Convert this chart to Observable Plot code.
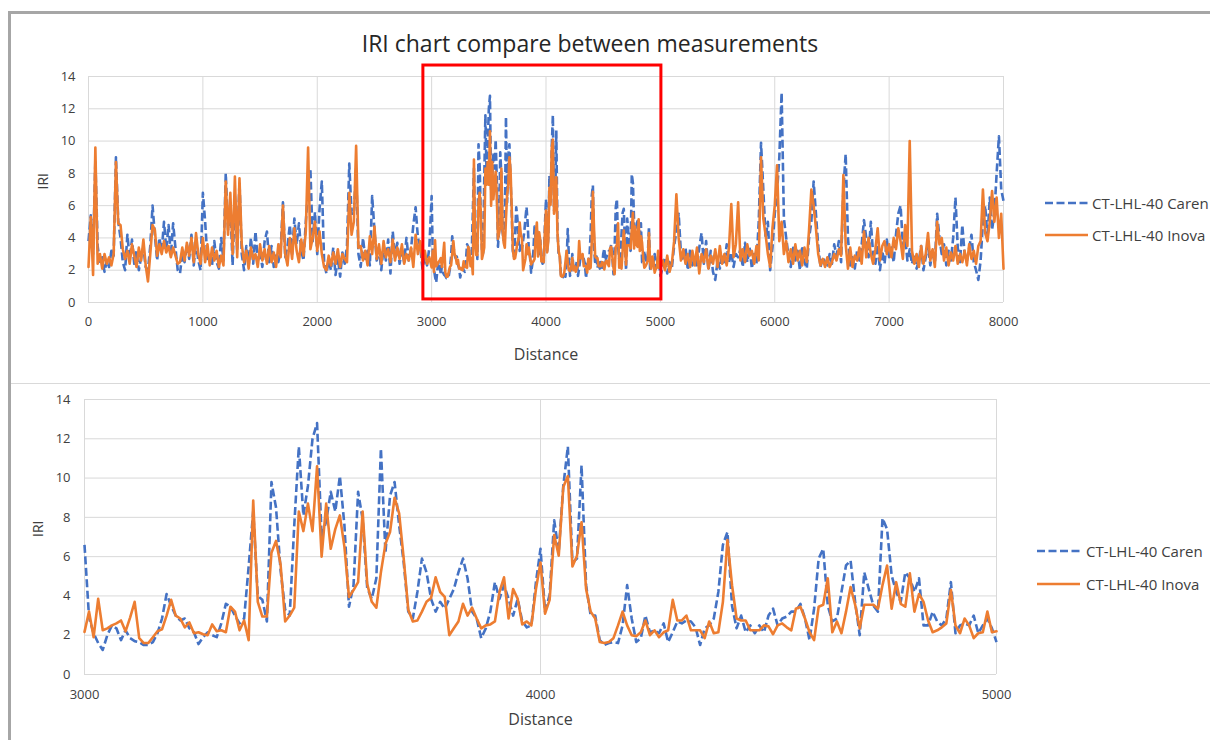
<!DOCTYPE html>
<html><head><meta charset="utf-8">
<script src="https://cdn.jsdelivr.net/npm/d3@7"></script>
<script src="https://cdn.jsdelivr.net/npm/@observablehq/plot@0.6"></script>
<style>
html,body{margin:0;padding:0;background:#fff;overflow:hidden;width:1210px;height:740px}
#wrap{position:relative;width:1210px;height:740px;overflow:hidden;font-family:"Open Sans",sans-serif;color:#404040;background:#fff}
.abs{position:absolute}
.leg{position:absolute;font-size:15px;line-height:20px;white-space:nowrap;color:#404040}
</style></head><body>
<div id="wrap">
  <div class="abs" style="left:9px;top:11px;width:1201px;height:3px;background:#a6a6a6"></div>
  <div class="abs" style="left:8px;top:11px;width:3px;height:729px;background:#a6a6a6"></div>
  <div class="abs" style="left:11px;top:383px;width:1199px;height:1px;background:#d9d9d9"></div>
  <div class="abs" style="left:290px;top:27px;width:600px;text-align:center;font-size:23px;line-height:32px;color:#262626">IRI chart compare between measurements</div>
  <div id="top" class="abs" style="left:0;top:60px"></div>
  <div id="bottom" class="abs" style="left:0;top:385px"></div>
  <div id="leg1"></div>
  <div id="leg2"></div>
</div>
<script>
// Series names and axis ticks
const seriesNames = ["CT-LHL-40 Caren", "CT-LHL-40 Inova"];
const yTicks = [0, 2, 4, 6, 8, 10, 12, 14];
const xTicksTop = [0, 1000, 2000, 3000, 4000, 5000, 6000, 7000, 8000];
const xTicksBottom = [3000, 4000, 5000];
// Highlighted (zoomed) section drawn as red box on top chart
const zoomBox = [{x1: 2928, x2: 5009, y1: 0.19, y2: 14.68}];

// IRI values, 0..2980 m every 20 m
const carenA = [
 3.8, 5.4, 3.0, 8.8, 3.5, 2.4, 2.8, 1.9, 2.6, 2.2,
 3.2, 2.9, 9.0, 5.0, 4.0, 2.5, 2.0, 4.2, 2.7, 3.9,
 2.4, 3.2, 2.0, 2.8, 3.4, 2.2, 2.0, 3.5, 6.0, 4.2,
 2.6, 4.0, 3.2, 5.0, 3.3, 4.8, 2.9, 4.9, 3.4, 2.0,
 1.8, 3.0, 2.5, 3.6, 2.7, 4.2, 2.3, 3.8, 2.6, 2.0,
 6.8, 5.0, 2.7, 3.1, 2.3, 3.8, 2.5, 2.1, 4.0, 2.6,
 8.0, 4.5, 6.0, 2.3, 6.6, 3.2, 7.5, 3.0, 2.0, 3.5,
 2.3, 4.0, 2.4, 4.4, 2.6, 3.1, 2.2, 3.8, 4.4, 2.5,
 3.5, 2.2, 2.9, 2.5, 3.3, 6.2, 2.8, 3.5, 4.8, 3.0,
 5.2, 3.6, 4.9, 3.2, 2.6, 5.0, 7.0, 8.3, 3.8, 5.6,
 3.0, 5.8, 7.5, 2.5, 1.8, 2.6, 2.0, 3.4, 1.7, 2.8,
 1.6, 3.1, 2.4, 3.5, 8.6, 5.5, 5.5, 8.3, 3.0, 2.2,
 4.0, 2.7, 3.2, 2.3, 6.6, 4.5, 2.6, 3.3, 2.0, 3.5,
 2.6, 3.9, 1.8, 4.4, 2.8, 3.7, 2.4, 3.2, 2.5, 4.0,
 2.6, 3.3, 4.8, 5.9, 4.0, 3.5, 2.1, 2.8, 2.3, 3.4
];
const inovaA = [
 2.2, 5.3, 1.7, 9.6, 2.4, 3.0, 2.1, 3.0, 2.4, 2.8,
 2.3, 3.0, 8.7, 4.9, 4.8, 3.3, 2.7, 3.2, 2.4, 3.6,
 2.9, 2.2, 3.4, 2.6, 3.9, 2.3, 1.3, 3.0, 4.8, 4.5,
 2.9, 3.6, 3.0, 3.8, 3.1, 3.5, 2.8, 3.4, 2.9, 2.4,
 2.5, 3.4, 2.6, 3.7, 2.9, 4.0, 2.5, 4.3, 3.0, 2.4,
 4.0, 2.5, 3.6, 2.3, 3.4, 2.6, 3.2, 2.2, 2.9, 2.3,
 7.5, 4.2, 6.8, 3.0, 7.8, 2.8, 7.7, 3.6, 2.5, 3.2,
 2.1, 3.4, 2.7, 3.0, 2.2, 3.6, 2.6, 3.3, 2.4, 3.5,
 2.5, 3.1, 2.2, 3.6, 2.8, 6.0, 3.0, 2.3, 4.0, 2.7,
 4.6, 3.2, 2.5, 3.9, 2.9, 4.4, 9.6, 3.3, 4.0, 5.0,
 3.2, 4.4, 3.0, 2.2, 2.0, 2.9, 2.3, 3.1, 2.4, 3.3,
 2.2, 3.0, 2.7, 2.5, 6.8, 4.2, 5.0, 9.7, 3.4, 3.5,
 2.6, 3.2, 2.3, 4.1, 3.0, 4.7, 2.7, 3.6, 2.4, 3.8,
 2.8, 3.3, 2.5, 3.9, 2.6, 3.4, 2.7, 3.6, 2.4, 3.0,
 2.6, 3.4, 2.2, 4.2, 3.0, 3.8, 2.5, 3.2, 2.4, 2.8
];

// IRI values, 3000..5000 m every 10 m
const carenB = [
 6.6, 2.9, 2.1, 1.6, 1.25, 2.0, 2.5, 2.35, 1.75, 2.25,
 1.85, 1.7, 1.65, 1.5, 1.5, 1.65, 2.1, 2.85, 4.1, 3.5,
 3.0, 2.75, 2.85, 2.35, 2.15, 1.55, 1.9, 2.15, 2.0, 1.9,
 2.6, 3.6, 3.45, 3.0, 2.6, 2.85, 5.5, 8.3, 4.0, 3.8,
 2.7, 9.8, 8.5, 5.3, 3.3, 3.0, 7.6, 11.6, 8.1, 9.6,
 12.0, 12.8, 7.0, 7.8, 9.3, 8.3, 10.1, 7.6, 3.45, 4.55,
 9.3, 7.9, 4.4, 3.85, 4.9, 11.5, 6.2, 9.1, 9.8, 7.6,
 5.7, 3.2, 2.85, 4.2, 5.9, 5.2, 3.85, 3.2, 3.7, 3.35,
 3.85, 4.35, 5.2, 5.9, 4.9, 3.2, 2.85, 1.85, 2.35, 3.2,
 4.7, 3.85, 4.55, 3.85, 3.0, 3.85, 2.7, 2.4, 2.5, 4.7,
 6.4, 3.2, 4.05, 7.85, 6.25, 9.6, 11.6, 5.7, 5.9, 10.65,
 4.55, 3.0, 3.0, 1.75, 1.5, 1.6, 1.65, 1.6, 2.5, 4.55,
 2.85, 1.65, 1.85, 3.0, 2.15, 2.25, 2.1, 2.6, 1.65, 2.15,
 2.7, 2.6, 2.75, 2.7, 2.4, 1.5, 2.35, 2.5, 2.85, 4.2,
 6.6, 7.25, 3.5, 2.35, 3.0, 2.15, 2.5, 2.1, 2.5, 2.15,
 3.0, 3.35, 2.5, 2.85, 2.95, 3.2, 3.2, 3.6, 2.85, 1.75,
 3.35, 5.9, 6.4, 3.5, 2.7, 2.85, 4.2, 5.55, 5.8, 3.7,
 2.0, 5.2, 4.35, 3.5, 3.2, 7.95, 7.4, 5.05, 4.2, 3.7,
 5.2, 4.9, 4.2, 4.9, 2.5, 2.5, 3.2, 2.7, 2.5, 2.85,
 4.7, 2.1, 2.5, 2.6, 2.5, 3.0, 2.1, 2.5, 2.85, 2.35,
 1.65
];
const inovaB = [
 2.17, 3.2, 1.9, 3.85, 2.25, 2.35, 2.5, 2.6, 2.75, 2.2,
 2.9, 3.7, 1.85, 1.6, 1.6, 1.9, 2.2, 2.3, 3.0, 3.8,
 3.0, 2.85, 2.4, 2.65, 2.1, 2.15, 2.05, 2.0, 2.55, 2.2,
 2.25, 2.15, 3.45, 3.2, 2.25, 2.75, 1.75, 8.85, 3.7, 2.95,
 2.95, 6.2, 6.8, 5.6, 2.7, 3.0, 3.4, 8.3, 7.3, 8.7,
 7.3, 10.6, 6.0, 8.7, 6.4, 7.4, 8.1, 6.5, 3.95, 4.3,
 4.7, 8.3, 4.6, 3.7, 3.4, 5.2, 6.65, 7.25, 9.0, 8.2,
 5.9, 3.3, 2.7, 2.75, 3.2, 3.7, 3.9, 4.95, 4.2, 3.95,
 2.0, 2.35, 2.7, 3.6, 3.0, 3.4, 2.85, 2.35, 2.5, 2.55,
 2.7, 4.2, 4.95, 2.85, 4.35, 3.85, 2.55, 2.7, 2.5, 4.35,
 5.7, 3.1, 3.8, 7.1, 6.05, 9.55, 10.1, 5.5, 6.05, 7.75,
 4.35, 3.2, 2.85, 1.65, 1.6, 1.65, 1.85, 2.5, 3.2, 2.5,
 2.0, 1.95, 2.15, 2.75, 2.0, 2.25, 1.9, 2.15, 2.25, 3.8,
 2.75, 2.75, 3.0, 2.25, 2.25, 2.25, 1.85, 2.7, 2.1, 2.15,
 3.7, 6.85, 4.55, 2.85, 2.75, 2.75, 2.25, 2.25, 2.25, 2.5,
 2.45, 2.05, 2.5, 2.6, 2.4, 2.25, 3.35, 3.45, 2.85, 2.15,
 1.75, 3.45, 3.55, 4.9, 2.15, 2.7, 2.1, 3.2, 4.45, 3.55,
 2.35, 3.55, 3.55, 3.55, 3.35, 4.55, 5.55, 3.35, 4.7, 3.6,
 3.45, 5.15, 3.2, 4.1, 3.7, 2.75, 2.15, 2.25, 2.4, 2.6,
 4.3, 2.5, 2.1, 2.85, 2.5, 1.85, 2.1, 2.15, 3.2, 2.15,
 2.2
];

// IRI values, 5020..8000 m every 20 m
const carenC = [
 2.2, 2.8, 1.8, 2.5, 2.1, 3.5, 4.4, 5.5, 3.0, 2.6,
 3.4, 2.0, 3.3, 2.3, 2.8, 2.2, 3.4, 4.3, 2.4, 3.8,
 2.0, 3.2, 1.9, 1.4, 2.6, 2.1, 3.0, 2.4, 3.6, 2.5,
 3.1, 2.2, 3.0, 2.8, 3.3, 2.2, 3.7, 2.5, 3.4, 2.1,
 3.0, 2.4, 5.0, 9.9, 7.0, 4.0, 5.0, 2.0, 3.4, 5.5,
 6.8, 9.0, 13.0, 5.2, 4.0, 2.9, 2.2, 3.5, 2.6, 3.2,
 2.0, 3.5, 2.5, 2.1, 4.0, 5.0, 7.5, 5.5, 3.5, 2.2,
 2.8, 2.5, 2.3, 3.0, 2.4, 3.6, 2.9, 3.8, 2.5, 7.0,
 9.2, 4.0, 2.3, 2.8, 2.1, 3.2, 2.6, 3.6, 5.1, 4.0,
 2.8, 5.0, 3.0, 2.4, 3.6, 2.0, 3.2, 2.4, 3.9, 2.8,
 3.4, 2.5, 4.2, 5.5, 6.0, 3.6, 4.0, 2.6, 3.3, 2.4,
 3.0, 2.1, 2.6, 3.5, 2.0, 2.8, 3.6, 2.3, 3.2, 2.4,
 5.5, 4.0, 3.0, 3.6, 2.3, 3.2, 2.6, 4.0, 6.5, 3.4,
 2.5, 4.8, 3.0, 2.6, 3.4, 4.2, 2.5, 2.0, 1.4, 2.6,
 5.0, 6.0, 4.0, 6.5, 4.5, 5.5, 8.0, 10.3, 7.0, 6.3
];
const inovaC = [
 2.6, 2.0, 2.9, 1.9, 2.4, 3.8, 6.7, 4.0, 2.6, 3.3,
 2.4, 3.0, 2.2, 3.2, 2.3, 3.4, 1.8, 3.0, 2.5, 3.3,
 2.1, 2.9, 2.4, 3.3, 2.2, 3.5, 2.4, 3.0, 2.3, 3.4,
 6.1, 2.8, 3.6, 6.2, 2.6, 3.3, 2.5, 3.6, 2.9, 3.2,
 2.4, 3.5, 2.6, 9.0, 5.2, 4.2, 3.0, 2.2, 4.6, 6.0,
 8.5, 3.8, 5.0, 3.0, 3.8, 2.5, 3.3, 2.4, 3.6, 2.6,
 3.2, 2.3, 3.4, 2.5, 4.5, 7.0, 6.0, 4.6, 3.0, 2.3,
 2.7, 2.2, 2.8, 2.2, 2.5, 3.0, 2.6, 3.3, 2.9, 7.9,
 3.6, 2.1, 3.4, 2.2, 2.9, 2.6, 3.4, 2.4, 4.4, 2.8,
 4.0, 3.0, 2.4, 3.3, 4.6, 2.6, 3.5, 3.8, 3.0, 3.6,
 2.8, 4.0, 3.3, 4.6, 3.8, 2.7, 4.8, 3.5, 10.0, 3.2,
 2.4, 3.0, 2.2, 3.5, 2.4, 3.0, 4.3, 2.6, 3.3, 2.2,
 5.0, 3.6, 4.0, 2.6, 3.4, 2.3, 3.1, 2.6, 3.5, 2.4,
 3.0, 2.5, 3.2, 2.3, 3.6, 2.7, 3.2, 2.4, 3.5, 3.8,
 7.0, 4.3, 3.8, 5.0, 6.9, 5.0, 6.5, 4.0, 5.5, 2.1
];

// distances (m) for each block
function seq(start, step, n) { return Array.from({length: n}, (_, i) => start + i * step); }
const distA = seq(0, 20, carenA.length);
const distB = seq(3000, 10, carenB.length);
const distC = seq(5020, 20, carenC.length);
const rows = (dist, vals) => dist.map((d, i) => ({d, v: vals[i]}));
const carenTop = [...rows(distA, carenA), ...rows(distB, carenB), ...rows(distC, carenC)];
const inovaTop = [...rows(distA, inovaA), ...rows(distB, inovaB), ...rows(distC, inovaC)];
const carenZoom = rows(distB, carenB);
const inovaZoom = rows(distB, inovaB);

const BLUE = "#4472C4", ORANGE = "#ED7D31", GRID = "#d9d9d9", TXT = "#404040";
const baseStyle = {fontFamily: '"Open Sans", sans-serif', fontSize: "13px", color: TXT, background: "transparent", overflow: "visible"};

function chart({xDomain, xTicks, width, height, mL, mR, mT, mB, blue, orange, lw, box, labDy, labDx, tickPadX, tickPadY}) {
  const marks = [
    Plot.ruleY(yTicks, {stroke: GRID, strokeWidth: 1}),
    Plot.ruleX(xTicks, {stroke: GRID, strokeWidth: 1}),
    Plot.line(blue, {x: "d", y: "v", stroke: BLUE, strokeWidth: lw, strokeDasharray: "8,3.5", strokeLinecap: "butt", strokeLinejoin: "round"}),
    Plot.line(orange, {x: "d", y: "v", stroke: ORANGE, strokeWidth: lw, strokeLinejoin: "round"}),
    Plot.text(["Distance"], {frameAnchor: "bottom", dy: labDy, fontSize: 16, fill: TXT}),
    Plot.text(["IRI"], {frameAnchor: "left", dx: labDx, rotate: -90, fontSize: 14, fill: TXT})
  ];
  if (box) marks.push(Plot.rect(box, {x1: "x1", x2: "x2", y1: "y1", y2: "y2", fill: "none", stroke: "#FF0000", strokeWidth: 3}));
  return Plot.plot({
    width, height, marginLeft: mL, marginRight: mR, marginTop: mT, marginBottom: mB,
    style: baseStyle,
    x: {domain: xDomain, ticks: xTicks, tickSize: 0, tickPadding: tickPadX, tickFormat: d => String(d), label: null},
    y: {domain: [0, 14], ticks: yTicks, tickSize: 0, tickPadding: tickPadY, label: null},
    marks
  });
}

document.getElementById("top").appendChild(chart({
  xDomain: [0, 8000], xTicks: xTicksTop, width: 1030, height: 320,
  mL: 88, mR: 27, mT: 16, mB: 78, blue: carenTop, orange: inovaTop, lw: 2.6,
  box: zoomBox, labDy: 57, labDx: -45, tickPadX: 14, tickPadY: 13
}));
document.getElementById("bottom").appendChild(chart({
  xDomain: [3000, 5000], xTicks: xTicksBottom, width: 1030, height: 355,
  mL: 84, mR: 34, mT: 14, mB: 66, blue: carenZoom, orange: inovaZoom, lw: 2.6,
  box: null, labDy: 50, labDx: -46, tickPadX: 15, tickPadY: 14
}));

function legend(el, x0, xText, yBlue, yOrange) {
  const items = [
    {name: seriesNames[0], color: BLUE, dash: "8,3.5", y: yBlue},
    {name: seriesNames[1], color: ORANGE, dash: null, y: yOrange}
  ];
  items.forEach(it => {
    const s = d3.create("svg").attr("width", 44).attr("height", 10)
      .style("position", "absolute").style("left", x0 + "px").style("top", (it.y - 5) + "px");
    s.append("line").attr("x1", 0).attr("x2", 43).attr("y1", 5).attr("y2", 5)
      .attr("stroke", it.color).attr("stroke-width", 2.5)
      .attr("stroke-dasharray", it.dash);
    el.appendChild(s.node());
    const t = document.createElement("div");
    t.className = "leg";
    t.style.left = xText + "px";
    t.style.top = (it.y - 10) + "px";
    t.textContent = it.name;
    el.appendChild(t);
  });
}
legend(document.getElementById("leg1"), 1045, 1092, 203, 235);
legend(document.getElementById("leg2"), 1037, 1086, 551, 584);
</script>
</body></html>
